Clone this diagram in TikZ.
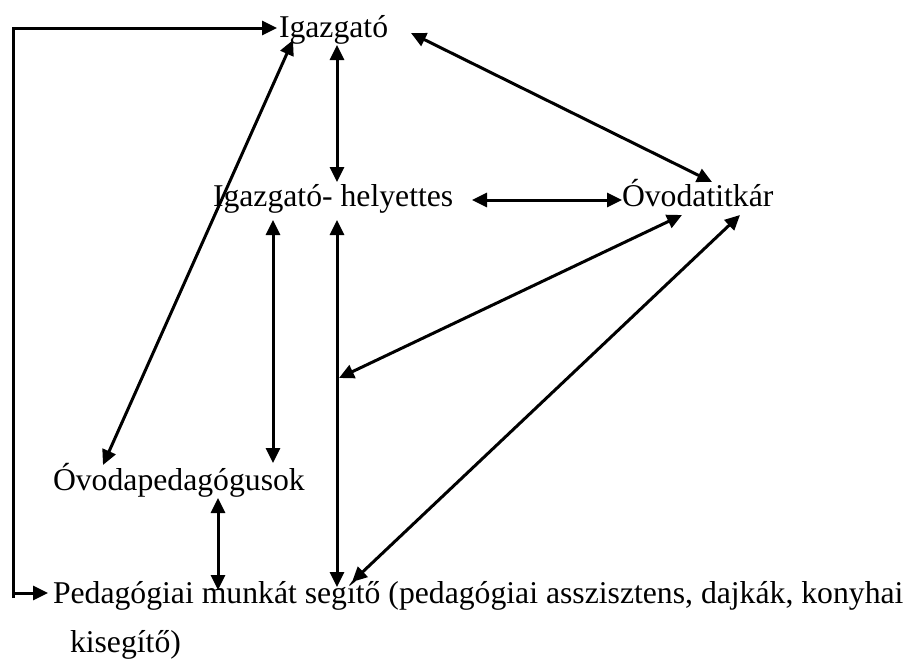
\documentclass[tikz,border=0pt]{standalone}
\usepackage{fontspec}
\setmainfont{Liberation Serif}
\usetikzlibrary{arrows.meta}
\tikzset{
  lbl/.style={inner sep=0pt, outer sep=0pt, anchor=base west, font=\fontsize{31.7}{49}\selectfont},
  tip/.tip={Triangle[length=15pt,width=14pt]},
  con/.style={line width=3pt},
  both/.style={con, tip-tip},
  one/.style={con, -tip},
}
\begin{document}
\begin{tikzpicture}[x=1pt,y=-1pt]
\useasboundingbox (0,0) rectangle (914,665);
% texts
\node[lbl] (igaz) at (279,37) {Igazgató};
\node[lbl] (hely) at (213,206) {Igazgató- helyettes};
\node[lbl] (titk) at (622,206) {Óvodatitkár};
\node[lbl] (opeda) at (53,490) {Óvodapedagógusok};
\node[lbl] (peda) at (53,603) {\vtop{\baselineskip=49pt\lineskiplimit=-100pt\hbox{Pedagógiai munkát segítő (pedagógiai asszisztens, dajkák, konyhai}\hbox{\hspace*{17pt}kisegítő)}}};
% connector end points
\coordinate (fr0) at (13,598);
\coordinate (frTop) at (13,28);
\coordinate (frBot) at (13,593);
\coordinate (igW) at (277,28);
\coordinate (pedW) at (48,593);
\coordinate (igS) at (337,45);
\coordinate (hlN) at (337,182);
\coordinate (igE) at (411,33);
\coordinate (tkN) at (712,182);
\coordinate (igSW) at (293,40);
\coordinate (opNE) at (103,465);
\coordinate (hlE) at (472,200);
\coordinate (tkW) at (622,200);
\coordinate (hlS1) at (273,220);
\coordinate (opN) at (273,463);
\coordinate (hlS2) at (337,220);
\coordinate (pdN) at (337,587);
\coordinate (tkS1) at (682,215);
\coordinate (vmid) at (339,378);
\coordinate (tkS2) at (740,215);
\coordinate (pdNE) at (352,582);
\coordinate (opS) at (218,498);
\coordinate (pdN2) at (218,590);
% connectors
\draw[one] (fr0) -- (frTop) -- (igW);
\draw[one] (frBot) -- (pedW);
\draw[both] (igS) -- (hlN);
\draw[both] (igE) -- (tkN);
\draw[both] (igSW) -- (opNE);
\draw[both] (hlE) -- (tkW);
\draw[both] (hlS1) -- (opN);
\draw[both] (hlS2) -- (pdN);
\draw[both] (tkS1) -- (vmid);
\draw[both] (tkS2) -- (pdNE);
\draw[both] (opS) -- (pdN2);
\end{tikzpicture}
\end{document}
